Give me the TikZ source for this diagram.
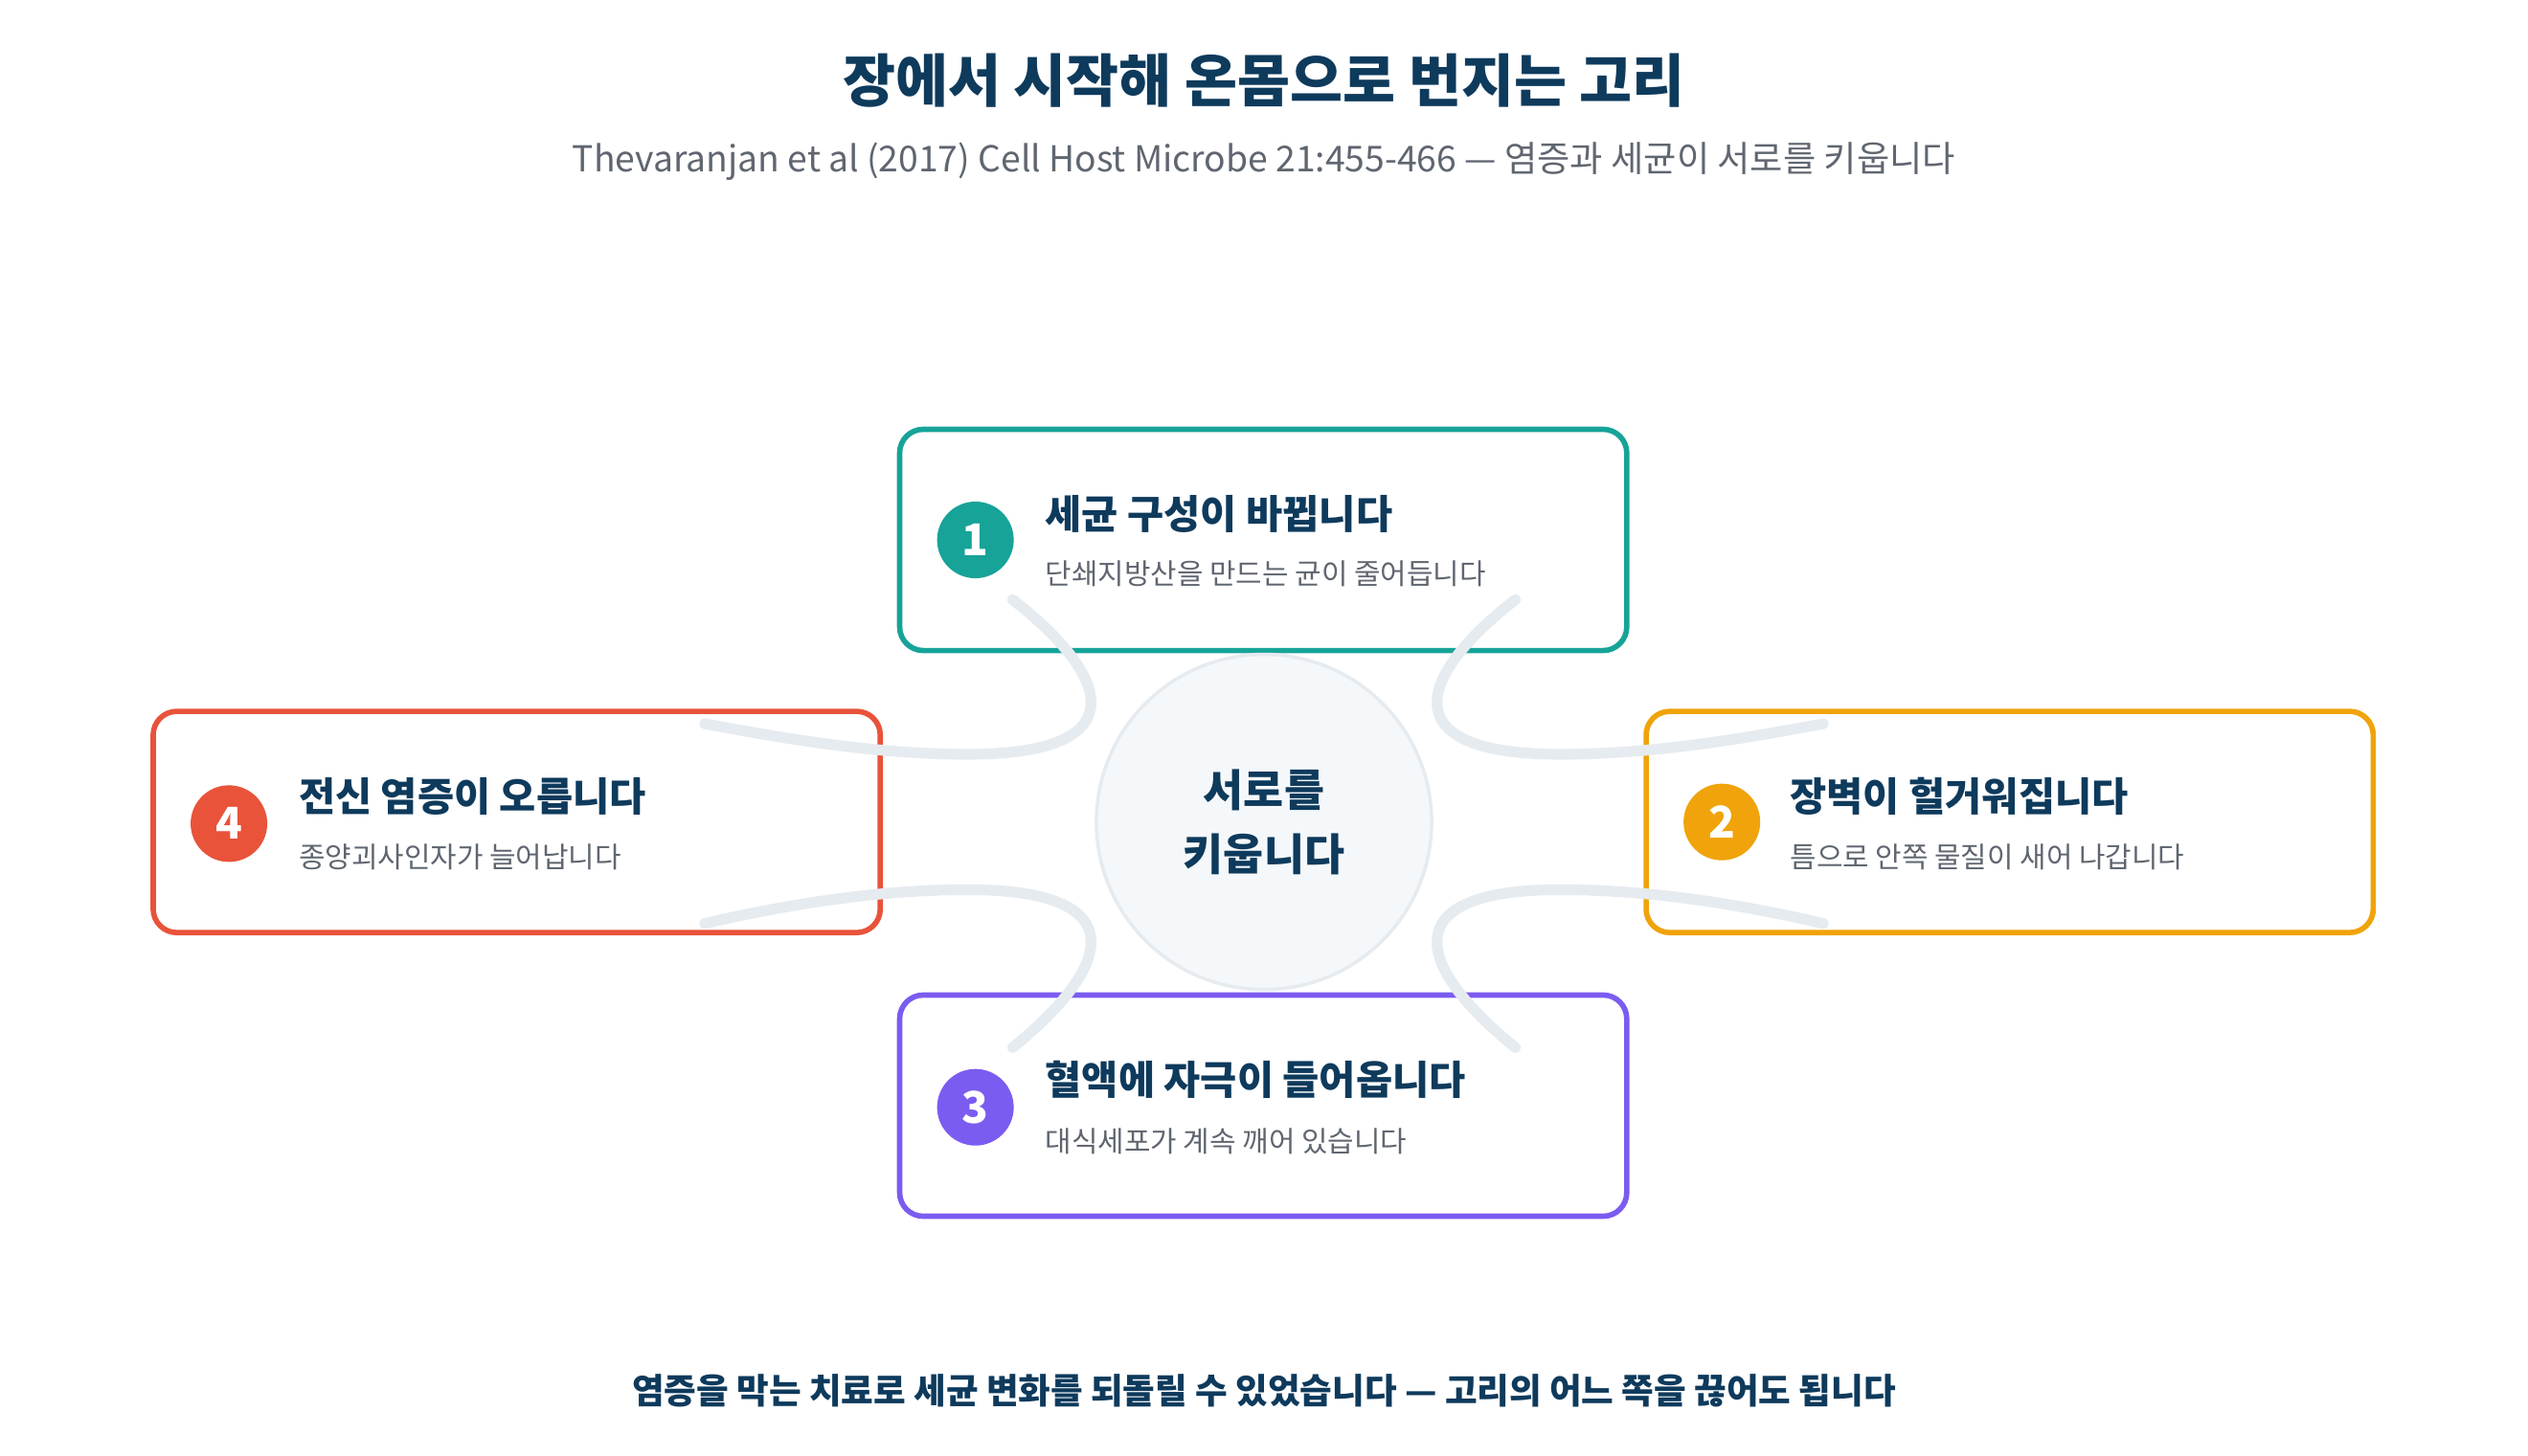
\documentclass[tikz,border=0pt]{standalone}
\usepackage{fontspec}
\setmainfont{Noto Sans CJK KR}
\usepackage{tikz}
\usetikzlibrary{positioning}
\definecolor{navy}{HTML}{0E3A5C}
\definecolor{subgray}{HTML}{5F6670}
\definecolor{cteal}{HTML}{17A398}
\definecolor{corange}{HTML}{F0A30A}
\definecolor{cpurple}{HTML}{7B5CF0}
\definecolor{cred}{HTML}{E8533A}
\definecolor{loopgray}{HTML}{E6EBF0}
\definecolor{hubfill}{HTML}{F5F8FA}
\tikzset{
  card/.style={draw=#1,line width=1.6pt,rounded corners=7pt,fill=white,minimum width=7.59cm,minimum height=2.31cm},
  badge/.style={circle,fill=#1,text=white,minimum size=0.8cm,inner sep=0pt,font=\fontsize{13}{13}\selectfont\bfseries},
  head/.style={anchor=west,text=navy,inner sep=0pt,font=\fontsize{11.8}{14}\selectfont\bfseries},
  sub/.style={anchor=west,text=subgray,inner sep=0pt,font=\fontsize{8.5}{10}\selectfont},
  loop/.style={loopgray,line width=3.2pt,line cap=round}
}
\begin{document}
\begin{tikzpicture}[x=0.016837cm,y=-0.016837cm]
    \useasboundingbox (0,0) rectangle (1568,903);
    % ===== Header =====
    \node[text=navy,font=\fontsize{17}{20}\selectfont\bfseries] (title) at (784,50) {장에서 시작해 온몸으로 번지는 고리};
    \node[text=subgray,font=\fontsize{10.6}{12}\selectfont] (cite) at (784,100) {Thevaranjan et al (2017) Cell Host Microbe 21:455-466 — 염증과 세균이 서로를 키웁니다};
    % ===== Cards =====
    \node[card=cteal] (c1) at (783.5,335) {};
    \node[card=corange] (c2) at (1246.5,510) {};
    \node[card=cpurple] (c3) at (783.5,686) {};
    \node[card=cred] (c4) at (320.5,510) {};
    \node[badge=cteal] (b1) at (605,335) {1};
    \node[badge=corange] (b2) at (1068,510) {2};
    \node[badge=cpurple] (b3) at (605,687) {3};
    \node[badge=cred] (b4) at (142,511) {4};
    \node[head] (h1) at (648,319) {세균 구성이 바뀝니다};
    \node[sub] (s1) at (648,356) {단쇄지방산을 만드는 균이 줄어듭니다};
    \node[head] (h2) at (1110,494) {장벽이 헐거워집니다};
    \node[sub] (s2) at (1110,532) {틈으로 안쪽 물질이 새어 나갑니다};
    \node[head] (h3) at (648,670) {혈액에 자극이 들어옵니다};
    \node[sub] (s3) at (648,708) {대식세포가 계속 깨어 있습니다};
    \node[head] (h4) at (185,494) {전신 염증이 오릅니다};
    \node[sub] (s4) at (185,532) {종양괴사인자가 늘어납니다};
    % ===== Hub =====
    \node[circle,draw=loopgray,line width=1pt,fill=hubfill,minimum size=3.5cm,align=center,text=navy,font=\fontsize{13}{19}\selectfont\bfseries] (hub) at (784,510) {서로를\\키웁니다};
    % ===== Loop arcs =====
    \coordinate (a1) at (628,372); \coordinate (a4) at (437,449);
    \coordinate (d1) at (940,372); \coordinate (d2) at (1131,449);
    \coordinate (e3) at (628,650); \coordinate (e4) at (437,573);
    \coordinate (f3) at (940,650); \coordinate (f2) at (1131,573);
    \draw[loop] (a1) .. controls (690,420) and (705,468) .. (600,468) .. controls (540,468) and (480,457) .. (a4);
    \draw[loop] (d1) .. controls (878,420) and (863,468) .. (968,468) .. controls (1028,468) and (1088,457) .. (d2);
    \draw[loop] (e3) .. controls (690,600) and (705,552) .. (600,552) .. controls (540,552) and (480,563) .. (e4);
    \draw[loop] (f3) .. controls (878,600) and (863,552) .. (968,552) .. controls (1028,552) and (1088,563) .. (f2);
    % ===== Footer =====
    \node[text=navy,font=\fontsize{10.4}{14}\selectfont\bfseries] (foot) at (784,863) {염증을 막는 치료로 세균 변화를 되돌릴 수 있었습니다 — 고리의 어느 쪽을 끊어도 됩니다};
\end{tikzpicture}
\end{document}
